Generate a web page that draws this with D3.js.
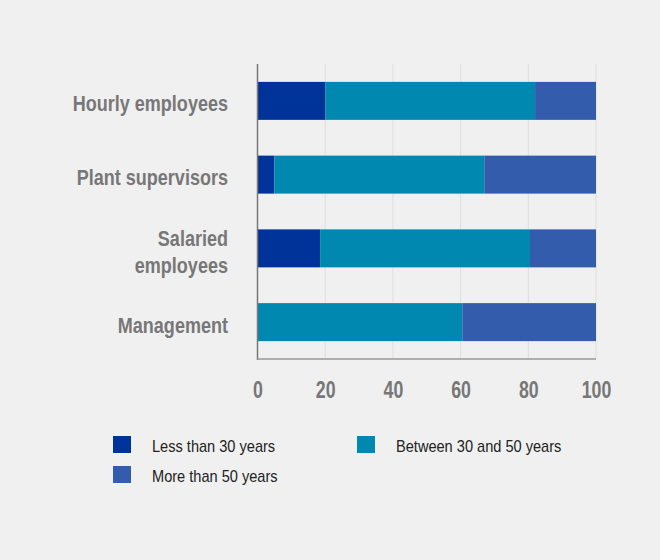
<!DOCTYPE html>
<html><head><meta charset="utf-8">
<script src="https://cdn.jsdelivr.net/npm/d3@7"></script>
<style>
html,body{margin:0;padding:0;background:#f0f0f0;}
svg{display:block;font-family:"Liberation Sans",Arial,sans-serif;}
</style></head>
<body>
<svg id="c" width="660" height="560"></svg>
<script>
const categories = ["Hourly employees", "Plant supervisors", "Salaried employees", "Management"];
const categoryLines = [["Hourly employees"], ["Plant supervisors"], ["Salaried", "employees"], ["Management"]];
const seriesNames = ["Less than 30 years", "Between 30 and 50 years", "More than 50 years"];
const lessThan30 = [20, 5, 18.5, 0];
const between30and50 = [62, 62, 62, 60.5];
const moreThan50 = [18, 33, 19.5, 39.5];
const tickValues = [0, 20, 40, 60, 80, 100];
const colors = ["#003399", "#0088b0", "#335cad"];

const svg = d3.select("#c");
svg.append("rect").attr("width", 660).attr("height", 560).attr("fill", "#f0f0f0");

const m = {left: 257.5, right: 596, top: 64, bottom: 359};
const x = d3.scaleLinear().domain([0, 100]).range([m.left, m.right]);
const y = d3.scaleBand().domain(categories).range([m.top, m.bottom]).paddingInner(0.485).paddingOuter(0.2425);

// gridlines
svg.append("g").selectAll("line").data(tickValues.filter(d => d > 0)).join("line")
  .attr("x1", d => x(d)).attr("x2", d => x(d))
  .attr("y1", m.top).attr("y2", m.bottom)
  .attr("stroke", "#dedede").attr("stroke-width", 1);

const data = categories.map((c, i) => ({cat: c, s0: lessThan30[i], s1: between30and50[i], s2: moreThan50[i]}));
const stack = d3.stack().keys(["s0", "s1", "s2"])(data);

svg.append("g").selectAll("g").data(stack).join("g")
  .attr("fill", (d, i) => colors[i])
  .selectAll("rect").data(d => d).join("rect")
  .attr("x", d => x(d[0]))
  .attr("width", d => Math.max(0, x(d[1]) - x(d[0])))
  .attr("y", d => y(d.data.cat))
  .attr("height", y.bandwidth());

// axes lines
svg.append("line").attr("x1", m.left).attr("x2", m.left).attr("y1", m.top).attr("y2", m.bottom + 1)
  .attr("stroke", "#777").attr("stroke-width", 1.5);
svg.append("line").attr("x1", m.left).attr("x2", m.right).attr("y1", m.bottom).attr("y2", m.bottom)
  .attr("stroke", "#999").attr("stroke-width", 1.5);

// x tick labels
const xAxis = svg.append("g").attr("transform", `translate(0,${m.bottom})`)
  .call(d3.axisBottom(x).tickValues(tickValues).tickSize(0).tickPadding(0).tickFormat(d3.format("d")));
xAxis.select(".domain").remove();
xAxis.selectAll("text").attr("y", 0).attr("dy", 0)
  .attr("transform", "translate(0,39) scale(0.74,1)")
  .attr("font-size", 24).attr("font-weight", "bold").attr("fill", "#777")
  .attr("font-family", "'Liberation Sans', Arial, sans-serif");

// category labels
const lab = svg.append("g");
categories.forEach((c, i) => {
  const lines = categoryLines[i];
  const cy = y(c) + y.bandwidth() / 2;
  const base = lines.length === 1 ? [cy + 10.5] : [cy - 2, cy + 25];
  lines.forEach((t, j) => {
    lab.append("text")
      .attr("transform", `translate(228,${base[j]}) scale(0.82,1)`)
      .attr("text-anchor", "end")
      .attr("font-size", 22).attr("font-weight", "bold").attr("fill", "#777")
      .text(t);
  });
});

// legend
const legendPos = [[113, 436], [357, 436], [113, 466]];
const lg = svg.append("g");
seriesNames.forEach((n, i) => {
  const [lx, ly] = legendPos[i];
  lg.append("rect").attr("x", lx).attr("y", ly).attr("width", 18).attr("height", 17).attr("fill", colors[i]);
  lg.append("text").attr("transform", `translate(${lx + 39},${ly + 16.3}) scale(0.9,1)`)
    .attr("font-size", 16.2).attr("fill", "#222").text(n);
});
</script>
</body></html>
